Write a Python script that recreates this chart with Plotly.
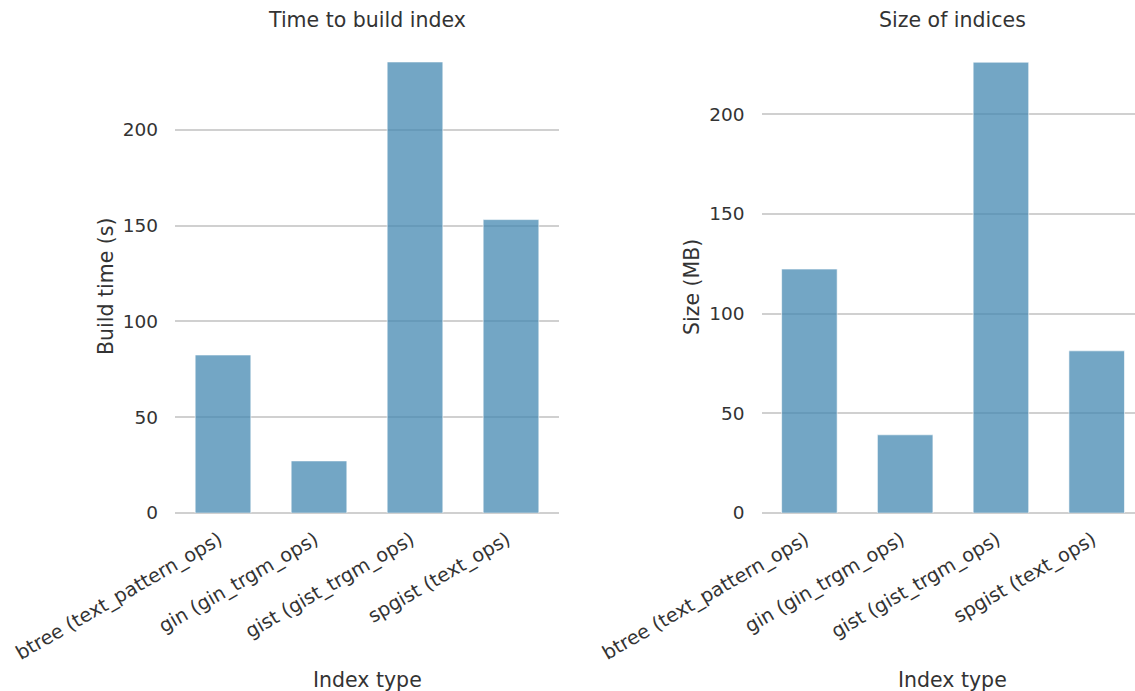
import plotly.graph_objects as go

categories = ["btree (text_pattern_ops)", "gin (gin_trgm_ops)", "gist (gist_trgm_ops)", "spgist (text_ops)"]
build_time_s = [82.5, 27.2, 235.5, 153.2]
size_mb = [122.3, 39.2, 226.0, 81.3]

W, H = 1135, 691
FONT = "DejaVu Sans"
TXT = "#333333"
GRID = "#d0d0d0"
BAR = "rgba(68,136,178,0.75)"

fig = go.Figure()
fig.add_trace(go.Bar(x=categories, y=build_time_s, width=0.58, marker=dict(color=BAR, line=dict(color="rgba(255,255,255,0.6)", width=1)),
                     xaxis="x", yaxis="y", showlegend=False))
fig.add_trace(go.Bar(x=categories, y=size_mb, width=0.58, marker=dict(color=BAR, line=dict(color="rgba(255,255,255,0.6)", width=1)),
                     xaxis="x2", yaxis="y2", showlegend=False))

ydom = [(H - 513) / H, (H - 61) / H]
common_x = dict(type="category", tickangle=-30, showgrid=False, showline=False, ticks="", automargin=False,
                ticklabelstandoff=11, ticklabelshift=-4,
                tickfont=dict(family=FONT, size=19.3, color=TXT), zeroline=False)
common_y = dict(showgrid=True, gridcolor=GRID, gridwidth=1.5, zeroline=True, zerolinecolor=GRID, zerolinewidth=2,
                showline=False, ticks="", ticklabelstandoff=16, tickvals=[0, 50, 100, 150, 200], automargin=False,
                tickfont=dict(family=FONT, size=18.5, color=TXT))

TSIZE = 20.5
fig.update_layout(
    width=W, height=H,
    margin=dict(l=0, r=0, t=0, b=0),
    plot_bgcolor="white", paper_bgcolor="white",
    font=dict(family=FONT, color=TXT),
    xaxis=dict(domain=[175 / W, 559 / W], range=[-0.5, 3.5], anchor="y", **common_x),
    yaxis=dict(domain=ydom, range=[0, 236], anchor="x", **common_y),
    xaxis2=dict(domain=[761.5 / W, 1.0], range=[-0.5, 3.4], anchor="y2", **common_x),
    yaxis2=dict(domain=ydom, range=[0, 226.6], anchor="x2", **common_y),
    annotations=[
        dict(text="Time to build index", x=367 / W, y=(H - 20) / H, xref="paper", yref="paper", showarrow=False,
             font=dict(family=FONT, size=TSIZE, color=TXT), xanchor="center", yanchor="middle"),
        dict(text="Size of indices", x=952 / W, y=(H - 20) / H, xref="paper", yref="paper", showarrow=False,
             font=dict(family=FONT, size=TSIZE, color=TXT), xanchor="center", yanchor="middle"),
        dict(text="Index type", x=367 / W, y=(H - 680) / H, xref="paper", yref="paper", showarrow=False,
             font=dict(family=FONT, size=TSIZE, color=TXT), xanchor="center", yanchor="middle"),
        dict(text="Index type", x=952 / W, y=(H - 680) / H, xref="paper", yref="paper", showarrow=False,
             font=dict(family=FONT, size=TSIZE, color=TXT), xanchor="center", yanchor="middle"),
        dict(text="Build time (s)", x=106 / W, y=(H - 287) / H, xref="paper", yref="paper", showarrow=False, textangle=-90,
             font=dict(family=FONT, size=TSIZE, color=TXT), xanchor="center", yanchor="middle"),
        dict(text="Size (MB)", x=692 / W, y=(H - 287) / H, xref="paper", yref="paper", showarrow=False, textangle=-90,
             font=dict(family=FONT, size=TSIZE, color=TXT), xanchor="center", yanchor="middle"),
    ],
)

fig.write_html("out.html", config={"displayModeBar": False},
               post_script="document.body.style.margin='0';document.body.style.overflow='hidden';")
